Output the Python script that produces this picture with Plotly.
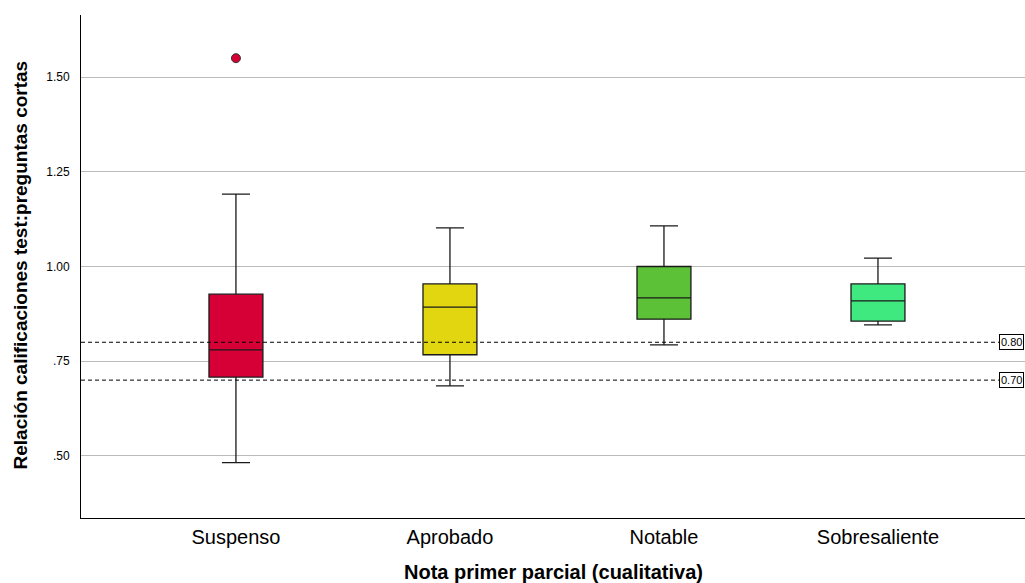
import plotly.graph_objects as go

categories = ["Suspenso", "Aprobado", "Notable", "Sobresaliente"]
lower_whisker = [0.482, 0.685, 0.793, 0.846]
q1_vals = [0.708, 0.767, 0.861, 0.856]
median_vals = [0.780, 0.893, 0.917, 0.909]
q3_vals = [0.927, 0.954, 1.000, 0.954]
upper_whisker = [1.191, 1.102, 1.107, 1.022]
colors = ["#D70036", "#E2D610", "#5DC138", "#40E880"]
outlier_cat = ["Suspenso"]
outlier_val = [1.550]
ref_lines = [0.80, 0.70]
ref_labels = ["0.80", "0.70"]
tick_vals = [0.50, 0.75, 1.00, 1.25, 1.50]
tick_text = [".50", ".75", "1.00", "1.25", "1.50"]

fig = go.Figure()
for i, c in enumerate(categories):
    fig.add_trace(go.Box(
        x=[c], q1=[q1_vals[i]], median=[median_vals[i]], q3=[q3_vals[i]],
        lowerfence=[lower_whisker[i]], upperfence=[upper_whisker[i]],
        fillcolor=colors[i], line=dict(color="#1a1a1a", width=1.3),
        width=0.252, whiskerwidth=0.52, boxpoints=False, showlegend=False,
        hoverinfo="skip"))

fig.add_trace(go.Scatter(
    x=outlier_cat, y=outlier_val, mode="markers",
    marker=dict(size=9, color=colors[0], line=dict(color="#333333", width=1)),
    showlegend=False, hoverinfo="skip"))

for v, lab in zip(ref_lines, ref_labels):
    fig.add_shape(type="line", xref="paper", yref="y", x0=0, x1=1, y0=v, y1=v,
                  line=dict(color="black", width=1, dash="4px,3px"))
    fig.add_annotation(xref="paper", yref="y", x=0.999, y=v, xanchor="right",
                       text=lab, showarrow=False, font=dict(size=11, color="black",
                       family="Liberation Sans, Arial"),
                       bgcolor="white", bordercolor="black", borderwidth=1, borderpad=1)

fig.update_layout(
    width=1025, height=583,
    margin=dict(l=81, r=0, t=15, b=65, autoexpand=False),
    paper_bgcolor="white", plot_bgcolor="white",
    font=dict(family="Liberation Sans, Arial, sans-serif", color="black"),
    xaxis=dict(
        categoryorder="array", categoryarray=categories, automargin=False,
        range=[-0.724, 3.687], showgrid=False, zeroline=False,
        showline=True, linecolor="black", linewidth=1,
        ticks="", tickfont=dict(size=20), ticklabelstandoff=1),
    yaxis=dict(
        range=[0.336, 1.664], tickvals=tick_vals, ticktext=tick_text, automargin=False,
        showgrid=True, gridcolor="#BBBBBB", gridwidth=1, zeroline=False,
        showline=True, linecolor="black", linewidth=1,
        ticks="", tickfont=dict(size=12), ticklabelstandoff=8),
)

fig.add_annotation(xref="paper", yref="paper", x=-0.0636, y=0.504,
                   xanchor="center", yanchor="middle",
                   text="<b>Relación calificaciones test:preguntas cortas</b>",
                   textangle=-90, showarrow=False, font=dict(size=19))
fig.add_annotation(xref="paper", yref="paper", x=0.5, y=-0.108,
                   xanchor="center", yanchor="middle",
                   text="<b>Nota primer parcial (cualitativa)</b>",
                   showarrow=False, font=dict(size=20))

fig.write_html("out.html", config={"displayModeBar": False},
               post_script="document.body.style.margin='0';document.body.style.overflow='hidden';")
